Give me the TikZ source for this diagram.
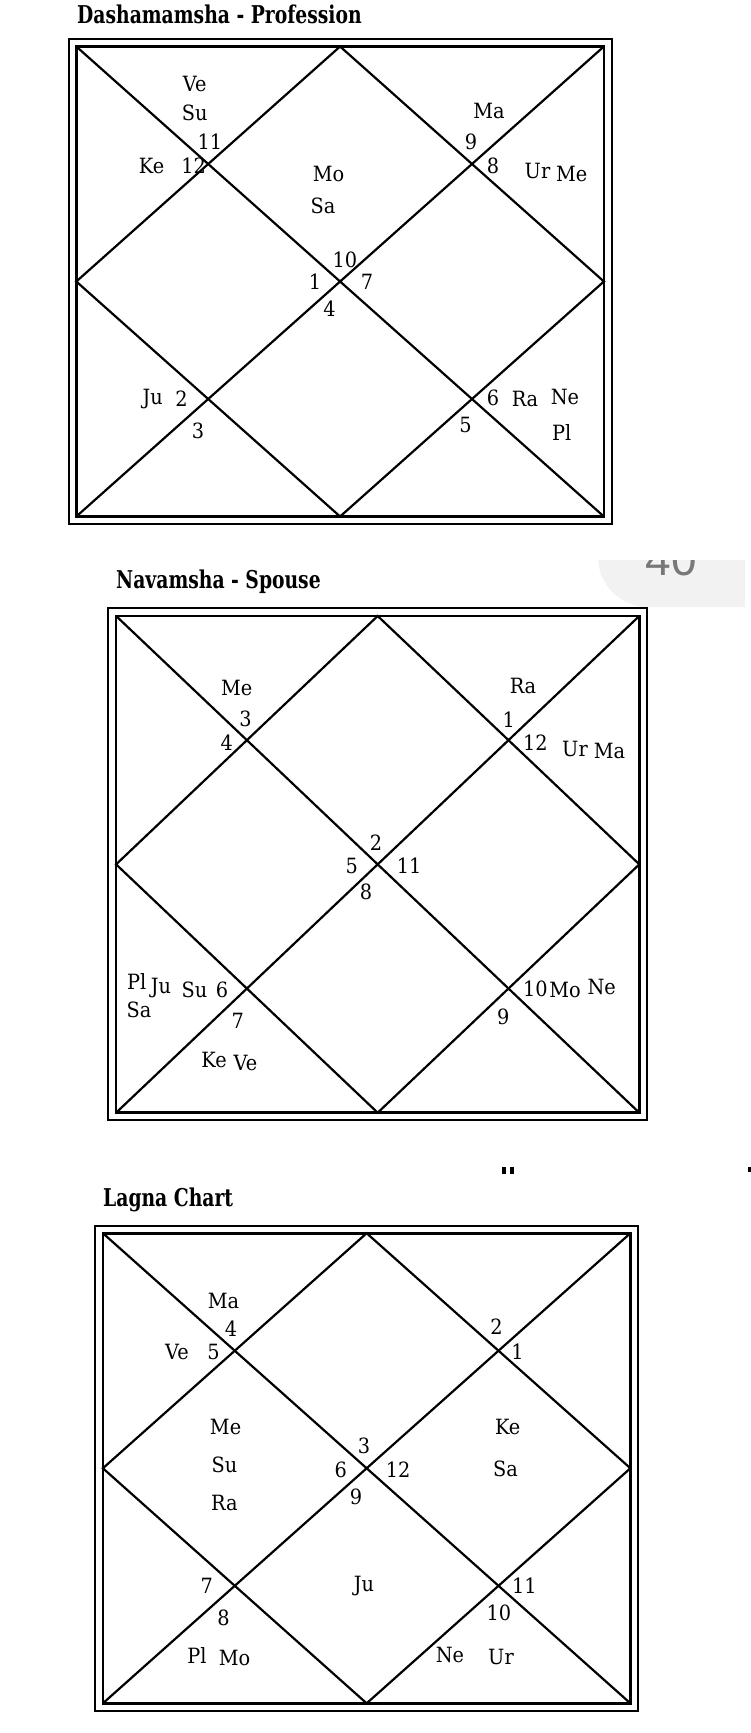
\documentclass[tikz,border=0pt]{standalone}
\usepackage{fontspec}
\setmainfont{DejaVu Serif}[FakeStretch=0.92]
\newfontfamily\titlefont{DejaVu Serif}[FakeStretch=0.765]
\newfontfamily\uisans{Liberation Sans}
\definecolor{overlaygray}{HTML}{F2F2F2}
\definecolor{overlaytext}{HTML}{787878}
\newcommand\chartgrid[8]{%
 \draw[outerframe] (#1,#2) rectangle (#3,#4);
 \draw[innerframe] (#5,#6) rectangle (#7,#8);
 \draw[chartline] (#5,#6) -- (#7,#8) (#7,#6) -- (#5,#8);
 \draw[chartline] ({(#5+#7)/2},#6) -- (#7,{(#6+#8)/2}) -- ({(#5+#7)/2},#8) -- (#5,{(#6+#8)/2}) -- cycle;
}
\begin{document}
\begin{tikzpicture}[x=1pt,y=-1pt,
  lbl/.style={font=\fontsize{21}{21}\selectfont, inner sep=0pt},
  ttl/.style={font=\titlefont\bfseries\fontsize{24.5}{24.5}\selectfont, inner sep=0pt, anchor=west},
  outerframe/.style={line width=2pt},
  innerframe/.style={line width=2.6pt},
  chartline/.style={line width=2.2pt, line cap=round}]
\useasboundingbox (0,0) rectangle (751,1733);
\fill[white] (0,0) rectangle (751,1733);

% ---------- Chart 1 ----------
\node[ttl] (t1) at (77,14) {Dashamamsha - Profession};
\chartgrid{68.6}{38.7}{611.6}{524.3}{76.3}{46.5}{603.9}{516.5}
\node[lbl] (a1) at (194.7,84) {Ve};
\node[lbl] (a2) at (194.7,112.8) {Su};
\node[lbl] (a3) at (210,141.6) {11};
\node[lbl] (a4) at (151.5,166) {Ke};
\node[lbl] (a5) at (193.6,166) {12};
\node[lbl] (a6) at (328.5,173.6) {Mo};
\node[lbl] (a7) at (323,205.7) {Sa};
\node[lbl] (a8) at (488.9,110.6) {Ma};
\node[lbl] (a9) at (471,141.6) {9};
\node[lbl] (a10) at (493,166) {8};
\node[lbl] (a11) at (537.5,171.4) {Ur};
\node[lbl] (a12) at (571.8,173.6) {Me};
\node[lbl] (a13) at (345,260) {10};
\node[lbl] (a14) at (315,282) {1};
\node[lbl] (a15) at (367,282) {7};
\node[lbl] (a16) at (329.6,308.6) {4};
\node[lbl] (a17) at (152.6,399) {Ju};
\node[lbl] (a18) at (181.4,399) {2};
\node[lbl] (a19) at (198,431) {3};
\node[lbl] (a20) at (493,398) {6};
\node[lbl] (a21) at (525,399) {Ra};
\node[lbl] (a22) at (565,397) {Ne};
\node[lbl] (a23) at (465.6,424.7) {5};
\node[lbl] (a24) at (561.8,432.5) {Pl};

% ---------- Chart 2 ----------
\node[ttl] (t2) at (116,582) {Navamsha - Spouse};
\chartgrid{108.4}{608.3}{647}{1120.4}{116.1}{616}{639.3}{1112.7}
\node[lbl] (b1) at (236.7,688) {Me};
\node[lbl] (b2) at (245.5,719) {3};
\node[lbl] (b3) at (226.7,743) {4};
\node[lbl] (b4) at (523,685.7) {Ra};
\node[lbl] (b5) at (508.8,720) {1};
\node[lbl] (b6) at (535.3,743) {12};
\node[lbl] (b7) at (575,748.8) {Ur};
\node[lbl] (b8) at (609.4,751) {Ma};
\node[lbl] (b9) at (376,842.8) {2};
\node[lbl] (b10) at (351.7,866) {5};
\node[lbl] (b11) at (409.2,866) {11};
\node[lbl] (b12) at (366,891.5) {8};
\node[lbl] (b13) at (136.7,981.5) {Pl};
\node[lbl] (b14) at (161,987.7) {Ju};
\node[lbl] (b15) at (194.4,990) {Su};
\node[lbl] (b16) at (222,990) {6};
\node[lbl] (b17) at (139,1010) {Sa};
\node[lbl] (b18) at (237.7,1021) {7};
\node[lbl] (b19) at (214,1060) {Ke};
\node[lbl] (b20) at (245.5,1062.5) {Ve};
\node[lbl] (b21) at (535.3,988.8) {10};
\node[lbl] (b22) at (565,990) {Mo};
\node[lbl] (b23) at (601.7,986.6) {Ne};
\node[lbl] (b24) at (503.2,1016.4) {9};

% overlay badge
\begin{scope}
 \clip (0,560) rectangle (751,640);
 \fill[overlaygray] [rounded corners=50pt] (598,480) -- (598,607) [sharp corners] -- (745,607) -- (745,480) -- cycle;
 \node[font=\uisans\fontsize{46}{46}\selectfont, text=overlaytext, inner sep=0pt, anchor=base] (badge) at (671.5,575) {40};
\end{scope}

% ---------- Chart 3 ----------
\fill (502,1167) rectangle (506,1174);
\fill (510,1167) rectangle (514,1174);
\fill (748,1167) rectangle (751,1172);
\node[ttl] (t3) at (103,1200) {Lagna Chart};
\chartgrid{95.1}{1225.5}{638.2}{1711}{102.9}{1233.2}{630.4}{1703.3}
\node[lbl] (c1) at (223.4,1300.7) {Ma};
\node[lbl] (c2) at (231,1328.4) {4};
\node[lbl] (c3) at (177,1351.6) {Ve};
\node[lbl] (c4) at (213.5,1351.6) {5};
\node[lbl] (c5) at (496.6,1327) {2};
\node[lbl] (c6) at (517.6,1351.6) {1};
\node[lbl] (c7) at (225.6,1426.8) {Me};
\node[lbl] (c8) at (224.5,1464.4) {Su};
\node[lbl] (c9) at (224.5,1503) {Ra};
\node[lbl] (c10) at (507.7,1426.8) {Ke};
\node[lbl] (c11) at (505.5,1468.8) {Sa};
\node[lbl] (c12) at (363.9,1445.6) {3};
\node[lbl] (c13) at (340.7,1470) {6};
\node[lbl] (c14) at (398.2,1470) {12};
\node[lbl] (c15) at (356.1,1496.5) {9};
\node[lbl] (c16) at (363.9,1586) {Ju};
\node[lbl] (c17) at (206.8,1586) {7};
\node[lbl] (c18) at (223.4,1618) {8};
\node[lbl] (c19) at (196.9,1655.7) {Pl};
\node[lbl] (c20) at (234.5,1658) {Mo};
\node[lbl] (c21) at (524.3,1586) {11};
\node[lbl] (c22) at (498.8,1612.6) {10};
\node[lbl] (c23) at (450,1654.6) {Ne};
\node[lbl] (c24) at (501,1656.8) {Ur};
\end{tikzpicture}
\end{document}
